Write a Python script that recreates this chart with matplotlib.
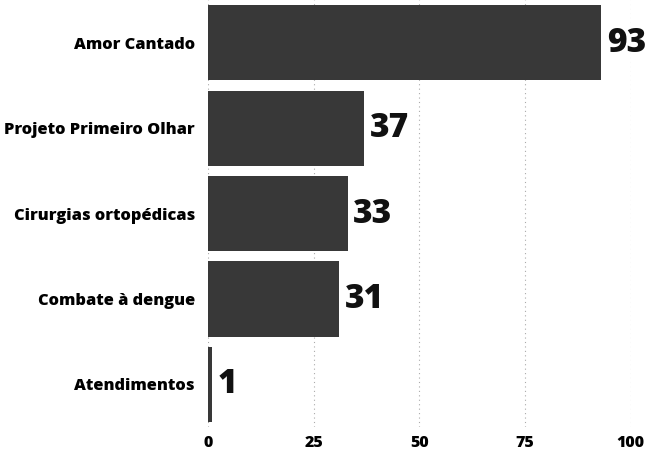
import matplotlib.pyplot as plt

categories = ["Amor Cantado", "Projeto Primeiro Olhar", "Cirurgias ortopédicas",
              "Combate à dengue", "Atendimentos"]
values = [93, 37, 33, 31, 1]
xticks = [0, 25, 50, 75, 100]

plt.rcParams['font.family'] = ['Open Sans', 'DejaVu Sans']

fig = plt.figure(figsize=(6.47, 4.5), dpi=100)
ax = fig.add_axes([0.3215, 0.051, 0.6535, 0.949])

pos = list(range(len(categories)))
bars = ax.barh(pos, values, height=0.88, color="#383838", zorder=2)

for b, v in zip(bars, values):
    ax.annotate(str(v), (b.get_width(), b.get_y() + b.get_height() / 2),
                xytext=(4, 0), textcoords="offset points", va="center", ha="left",
                fontsize=24, fontweight="heavy", color="#111111")

ax.set_ylim(4.5, -0.5)
ax.set_xlim(0, 100)
ax.set_yticks(pos)
ax.set_yticklabels(categories, fontsize=11.8, fontweight="heavy")
ax.set_xticks(xticks)
ax.set_xticklabels([str(t) for t in xticks], fontsize=11.5, fontweight="heavy")
ax.tick_params(axis="y", length=0, pad=9.5)
ax.tick_params(axis="x", length=0, pad=5.5)
ax.grid(axis="x", linestyle=(0, (1, 3)), color="#aaaaaa", linewidth=0.8, zorder=0)
for s in ax.spines.values():
    s.set_visible(False)

fig.savefig("out.png", dpi=100)
